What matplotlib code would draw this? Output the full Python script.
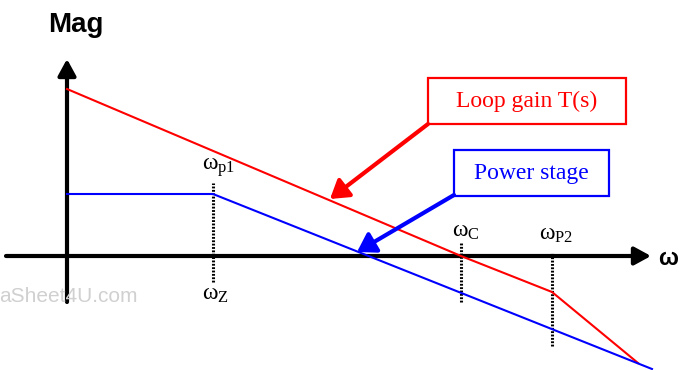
import matplotlib
matplotlib.use('Agg')
import matplotlib.pyplot as plt
from matplotlib.patches import Rectangle

plt.rcParams['mathtext.fontset'] = 'custom'
plt.rcParams['mathtext.rm'] = 'Liberation Serif'
plt.rcParams['mathtext.it'] = 'Liberation Serif'

# asymptotic bode magnitude (x = log frequency position, y = magnitude)
loop_x = [0.0, 3.94, 4.85, 5.71]
loop_y = [1.67, 0.0, -0.36, -1.07]
power_x = [0.0, 1.46, 5.85]
power_y = [0.62, 0.62, -1.13]

# corner frequencies and their labels
corner_x = [1.46, 3.94, 4.85]
corner_top = [0.73, 0.13, 0.03]
corner_bot = [-0.26, -0.46, -0.90]
corner_names = ['p1', 'C', 'P2']

RED = '#ff0000'
BLUE = '#0000ff'

fig = plt.figure(figsize=(6.8, 3.7), dpi=100)
ax = fig.add_axes([0, 0, 1, 1])
ax.set_xlim(-0.67, 6.13)
ax.set_ylim(-1.14, 2.56)
ax.axis('off')

# axes with arrow heads
axis_style = dict(arrowstyle='-|>,head_length=0.55,head_width=0.3', lw=3,
                  color='k', mutation_scale=18, shrinkA=0, shrinkB=0)
ax.annotate('', xy=(0, 1.97), xytext=(0, -0.46), arrowprops=axis_style)
ax.annotate('', xy=(5.84, 0), xytext=(-0.61, 0), arrowprops=axis_style)

ax.plot(loop_x, loop_y, color=RED, lw=1.5, zorder=3)
ax.plot(power_x, power_y, color=BLUE, lw=1.5, zorder=3)

for x, y0, y1 in zip(corner_x, corner_bot, corner_top):
    ax.plot([x, x], [y0, y1], color='k', lw=2.2, ls=(0, (0.6, 0.5)), zorder=2)

label_pos = [(1.35, 0.86), (3.85, 0.19), (4.72, 0.16)]
for (lx, ly), name in zip(label_pos, corner_names):
    ax.text(lx, ly, r'$\omega_{\mathrm{%s}}$' % name, fontsize=17,
            ha='left', va='baseline')
ax.text(1.35, -0.44, r'$\omega_{\mathrm{Z}}$', fontsize=17, ha='left', va='baseline')

# legend boxes with pointer arrows
ax.add_patch(Rectangle((3.61, 1.32), 1.98, 0.46, fill=False, ec=RED, lw=1.6))
ax.text(4.60, 1.55, 'Loop gain T(s)', color=RED, fontsize=17,
        family='Liberation Serif', ha='center', va='center')
ax.add_patch(Rectangle((3.87, 0.60), 1.55, 0.46, fill=False, ec=BLUE, lw=1.6))
ax.text(4.645, 0.83, 'Power stage', color=BLUE, fontsize=17,
        family='Liberation Serif', ha='center', va='center')

ptr = dict(arrowstyle='-|>,head_length=0.6,head_width=0.38', lw=3,
           mutation_scale=18, shrinkA=0, shrinkB=0)
ax.annotate('', xy=(2.63, 0.57), xytext=(3.61, 1.32),
            arrowprops=dict(color=RED, **ptr))
ax.annotate('', xy=(2.90, 0.04), xytext=(3.87, 0.61),
            arrowprops=dict(color=BLUE, **ptr))

ax.text(0.085, 2.24, 'Mag', fontsize=20, fontweight='bold',
        family='Liberation Sans', ha='center', va='baseline')
ax.text(6.01, -0.09, '\u03c9', fontsize=17, fontweight='bold',
        family='Liberation Sans', ha='center', va='baseline')

ax.text(-0.68, -0.40, 'aSheet4U.com', fontsize=15, color='#d0d0d0',
        family='Liberation Sans', ha='left', va='center')

fig.savefig('out.png', dpi=100)
